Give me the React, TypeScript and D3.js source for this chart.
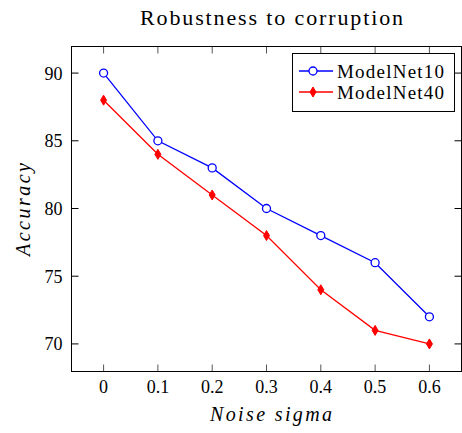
import React from "react";
import * as d3 from "d3";

const noiseSigma = [0, 0.1, 0.2, 0.3, 0.4, 0.5, 0.6];
const modelNet10 = [90, 85, 83, 80, 78, 76, 72];
const modelNet40 = [88, 84, 81, 78, 74, 71, 70];
const xTicks = [0, 0.1, 0.2, 0.3, 0.4, 0.5, 0.6];
const yTicks = [70, 75, 80, 85, 90];
const seriesNames = ["ModelNet10", "ModelNet40"];

const W = 462, H = 433;
const M = { left: 71, right: 0, top: 46, bottom: 62 };
const FONT = "'Liberation Serif', 'DejaVu Serif', serif";

export default function App() {
  const x = d3.scaleLinear().domain([-0.06, 0.66]).range([M.left, W - M.right]);
  const y = d3.scaleLinear().domain([68, 92]).range([H - M.bottom, M.top]);
  const line = d3.line<number>().x((_, i) => x(noiseSigma[i])).y((d) => y(d));
  const x0 = M.left + 0.5, x1 = W - M.right - 0.5, y0 = M.top + 0.5, y1 = H - M.bottom + 0.5;
  const tl = 7;
  const diamond = (cx: number, cy: number) =>
    `M${cx},${cy - 5}L${cx + 3},${cy}L${cx},${cy + 5}L${cx - 3},${cy}Z`;
  return (
    <svg width={W} height={H} style={{ position: "absolute", left: 0, top: 0 }} fontFamily={FONT}>
      <rect x={0} y={0} width={W} height={H} fill="white" />
      <text x={271.5} y={25} textAnchor="middle" fontSize={22} textLength={263} lengthAdjust="spacing">Robustness to corruption</text>
      {xTicks.map((t) => (
        <g key={"x" + t}>
          <line x1={x(t)} x2={x(t)} y1={y1} y2={y1 - tl} stroke="#555" strokeWidth={1} />
          <line x1={x(t)} x2={x(t)} y1={y0} y2={y0 + tl} stroke="#555" strokeWidth={1} />
          <text x={x(t)} y={y1 + 21} textAnchor="middle" fontSize={18}>{String(t)}</text>
        </g>
      ))}
      {yTicks.map((t) => (
        <g key={"y" + t}>
          <line x1={x0} x2={x0 + tl} y1={y(t)} y2={y(t)} stroke="#000" strokeWidth={1} />
          <line x1={x1} x2={x1 - tl} y1={y(t)} y2={y(t)} stroke="#000" strokeWidth={1} />
          <text x={x0 - 9} y={y(t) + 6.5} textAnchor="end" fontSize={18}>{t}</text>
        </g>
      ))}
      <rect x={x0} y={y0} width={x1 - x0} height={y1 - y0} fill="none" stroke="#000" strokeWidth={1} />
      <path d={line(modelNet10) || ""} fill="none" stroke="#0000ff" strokeWidth={1.3} />
      <path d={line(modelNet40) || ""} fill="none" stroke="#ff0000" strokeWidth={1.3} />
      {modelNet10.map((v, i) => (
        <circle key={"c" + i} cx={x(noiseSigma[i])} cy={y(v)} r={4} fill="white" stroke="#0000ff" strokeWidth={1.3} />
      ))}
      {modelNet40.map((v, i) => (
        <path key={"d" + i} d={diamond(x(noiseSigma[i]), y(v))} fill="#ff0000" stroke="#ff0000" strokeWidth={1} />
      ))}
      <text x={271} y={421} textAnchor="middle" fontSize={20} fontStyle="italic" textLength={122} lengthAdjust="spacing">Noise sigma</text>
      <text transform={`translate(30,209.5) rotate(-90)`} textAnchor="middle" fontSize={20} fontStyle="italic" textLength={93} lengthAdjust="spacing">Accuracy</text>
      <g>
        <rect x={292.5} y={53.5} width={162} height={58} fill="white" stroke="#000" strokeWidth={1} />
        {seriesNames.map((name, i) => {
          const ly = 71 + i * 21;
          const col = i === 0 ? "#0000ff" : "#ff0000";
          return (
            <g key={name}>
              <line x1={299} x2={333} y1={ly} y2={ly} stroke={col} strokeWidth={1.3} />
              {i === 0 ? (
                <circle cx={313} cy={ly} r={4} fill="white" stroke={col} strokeWidth={1.3} />
              ) : (
                <path d={diamond(313, ly)} fill={col} stroke={col} />
              )}
              <text x={337} y={ly + 6.5} fontSize={19} textLength={107} lengthAdjust="spacing">{name}</text>
            </g>
          );
        })}
      </g>
    </svg>
  );
}
